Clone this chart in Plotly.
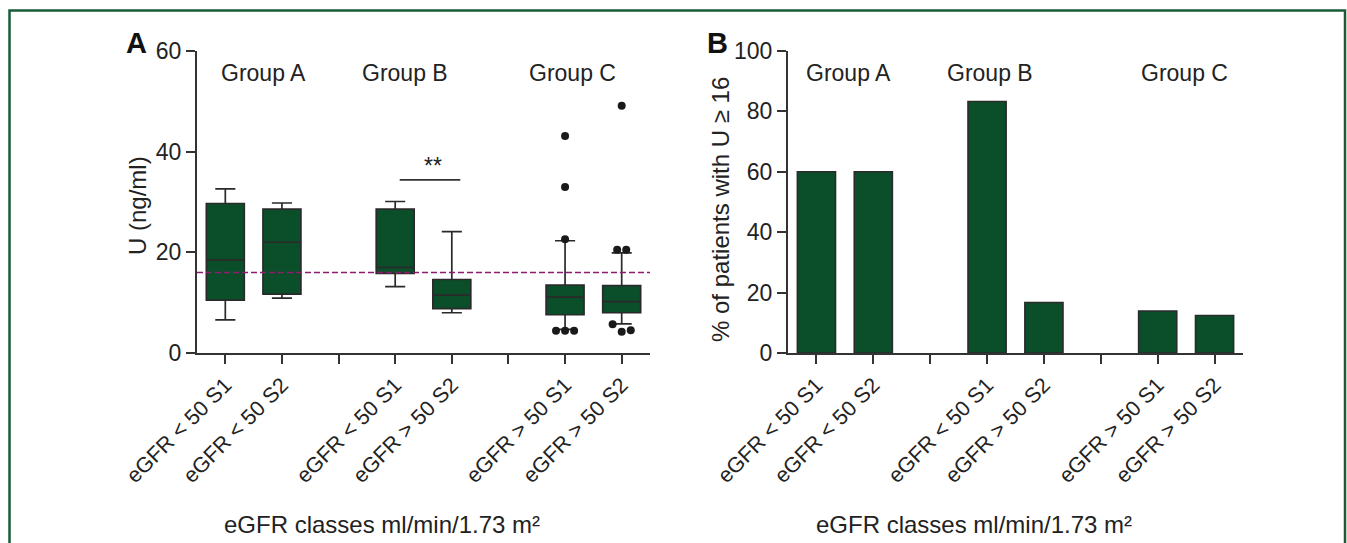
import plotly.graph_objects as go

# ---------------- data ----------------
slots = ["eGFR < 50 S1", "eGFR < 50 S2", "", "eGFR < 50 S1", "eGFR > 50 S2", "",
         "eGFR > 50 S1", "eGFR > 50 S2"]
groups = ["Group A", "Group B", "Group C"]

# Panel A: U (ng/ml) box statistics for the non-empty slots
box_slots = [0, 1, 3, 4, 6, 7]
whisker_low = [6.6, 10.9, 13.2, 8.0, 4.7, 5.8]
q1 = [10.5, 11.7, 15.8, 8.8, 7.6, 8.0]
median = [18.5, 22.0, 17.0, 11.5, 11.1, 10.2]
q3 = [29.7, 28.6, 28.6, 14.6, 13.5, 13.4]
whisker_high = [32.6, 29.8, 30.1, 24.1, 22.3, 19.9]
outliers = [[], [], [], [], [4.4, 4.4, 4.4, 22.6, 33.0, 43.1],
            [5.7, 4.2, 4.5, 20.5, 20.5, 49.1]]
threshold = 16
significance = "**"

# Panel B: % of patients with U >= 16
pct_high = [60.0, 60.0, 83.3, 16.7, 13.9, 12.4]

# ---------------- style ----------------
W, H = 1347, 543
GREEN = "#0b4f2a"
EDGE = "#2a2a2a"
TXT = "#222222"
FONT = "Liberation Sans, Arial, sans-serif"
BOX_W = 0.67
STEP = 0.16  # horizontal spread for overlapping points


def px_x(p):
    return p / W


def px_y(p):
    return 1 - p / H


fig = go.Figure()

fig.add_trace(go.Box(
    x=box_slots, q1=q1, median=median, q3=q3,
    lowerfence=whisker_low, upperfence=whisker_high,
    width=BOX_W, whiskerwidth=0.53, fillcolor=GREEN,
    line=dict(color=EDGE, width=1.7), boxpoints=False,
    xaxis="x", yaxis="y", showlegend=False, hoverinfo="skip"))

# outliers, spread horizontally when values nearly coincide
ox, oy = [], []
for slot, vals in zip(box_slots, outliers):
    clusters = []
    for v in vals:
        if clusters and abs(clusters[-1][-1] - v) < 1.6:
            clusters[-1].append(v)
        else:
            clusters.append([v])
    for c in clusters:
        n = len(c)
        for i, v in enumerate(c):
            ox.append(slot + (i - (n - 1) / 2) * STEP)
            oy.append(v)
fig.add_trace(go.Scatter(x=ox, y=oy, mode="markers",
                         marker=dict(color="#1a1a1a", size=8),
                         xaxis="x", yaxis="y", showlegend=False, hoverinfo="skip"))

fig.add_trace(go.Bar(x=box_slots, y=pct_high, width=BOX_W,
                     marker=dict(color=GREEN, line=dict(color=EDGE, width=1.6)),
                     xaxis="x2", yaxis="y2", showlegend=False, hoverinfo="skip"))

ydom = [px_y(353), px_y(51)]
axis_common = dict(showline=True, linecolor="#333333", linewidth=2,
                   ticks="outside", ticklen=9, tickwidth=1.6, tickcolor="#333333",
                   showgrid=False, zeroline=False, automargin=False,
                   tickfont=dict(family=FONT, size=23, color=TXT))
xcommon = dict(axis_common, range=[-0.5, len(slots) - 0.5],
               tickmode="array", tickvals=list(range(len(slots))),
               ticktext=slots, tickangle=-45,
               tickfont=dict(family=FONT, size=21.5, color=TXT))

fig.update_layout(
    width=W, height=H, margin=dict(l=0, r=0, t=0, b=0, pad=0, autoexpand=False),
    paper_bgcolor="white", plot_bgcolor="white",
    font=dict(family=FONT, color=TXT),
    xaxis=dict(xcommon, domain=[px_x(197), px_x(650)], anchor="y"),
    yaxis=dict(axis_common, domain=ydom, range=[0, 60], dtick=20, anchor="x"),
    xaxis2=dict(xcommon, domain=[px_x(788), px_x(1243)], anchor="y2"),
    yaxis2=dict(axis_common, domain=ydom, range=[0, 100], dtick=20, anchor="x2"),
)

shapes = [
    # threshold line
    dict(type="line", xref="x", yref="y", x0=-0.5, x1=len(slots) - 0.5,
         y0=threshold, y1=threshold,
         line=dict(color="#8e1b6e", width=1.5, dash="6px,3px"), layer="above"),
    # significance bar
    dict(type="line", xref="x", yref="y", x0=3.08, x1=4.15, y0=34.4, y1=34.4,
         line=dict(color="#333333", width=1.6)),
    # outer frame
    dict(type="rect", xref="paper", yref="paper", x0=px_x(9.5), x1=px_x(1345),
         y0=-0.1, y1=px_y(10.5), line=dict(color="#1a5c38", width=2.5)),
]
fig.update_layout(shapes=shapes)

C = dict(xanchor="center", yanchor="middle", showarrow=False)
ann = []
group_pos_a = [0.67, 3.18, 6.13]
group_pos_b = [0.57, 3.06, 6.47]
for g, xa, xb in zip(groups, group_pos_a, group_pos_b):
    ann.append(dict(C, text=g, x=xa, y=0.927, xref="x", yref="y domain",
                    font=dict(size=23, family=FONT, color=TXT)))
    ann.append(dict(C, text=g, x=xb, y=0.927, xref="x2", yref="y2 domain",
                    font=dict(size=23, family=FONT, color=TXT)))
ann.append(dict(C, text=significance, x=3.67, y=37.2, xref="x", yref="y",
                font=dict(size=23, family=FONT, color=TXT)))
ann.append(dict(C, text="U (ng/ml)", x=px_x(138), y=px_y(206), xref="paper", yref="paper",
                textangle=-90, font=dict(size=24, family=FONT, color=TXT)))
ann.append(dict(C, text="% of patients with U ≥ 16", x=px_x(720), y=px_y(210),
                xref="paper", yref="paper", textangle=-90,
                font=dict(size=24, family=FONT, color=TXT)))
for xr in ["x", "x2"]:
    ann.append(dict(C, text="eGFR classes ml/min/1.73 m²", x=-0.05, y=px_y(524),
                    xref=xr, yref="paper", xanchor="left",
                    font=dict(size=24, family=FONT, color=TXT)))
ann.append(dict(C, text="<b>A</b>", x=px_x(136), y=px_y(43), xref="paper", yref="paper",
                font=dict(size=29, family=FONT, color="#111111")))
ann.append(dict(C, text="<b>B</b>", x=px_x(717), y=px_y(43), xref="paper", yref="paper",
                font=dict(size=29, family=FONT, color="#111111")))
fig.update_layout(annotations=ann)

fig.write_html("out.html", config={"displayModeBar": False},
               post_script="document.body.style.margin='0';"
                           "document.body.style.overflow='hidden';")
